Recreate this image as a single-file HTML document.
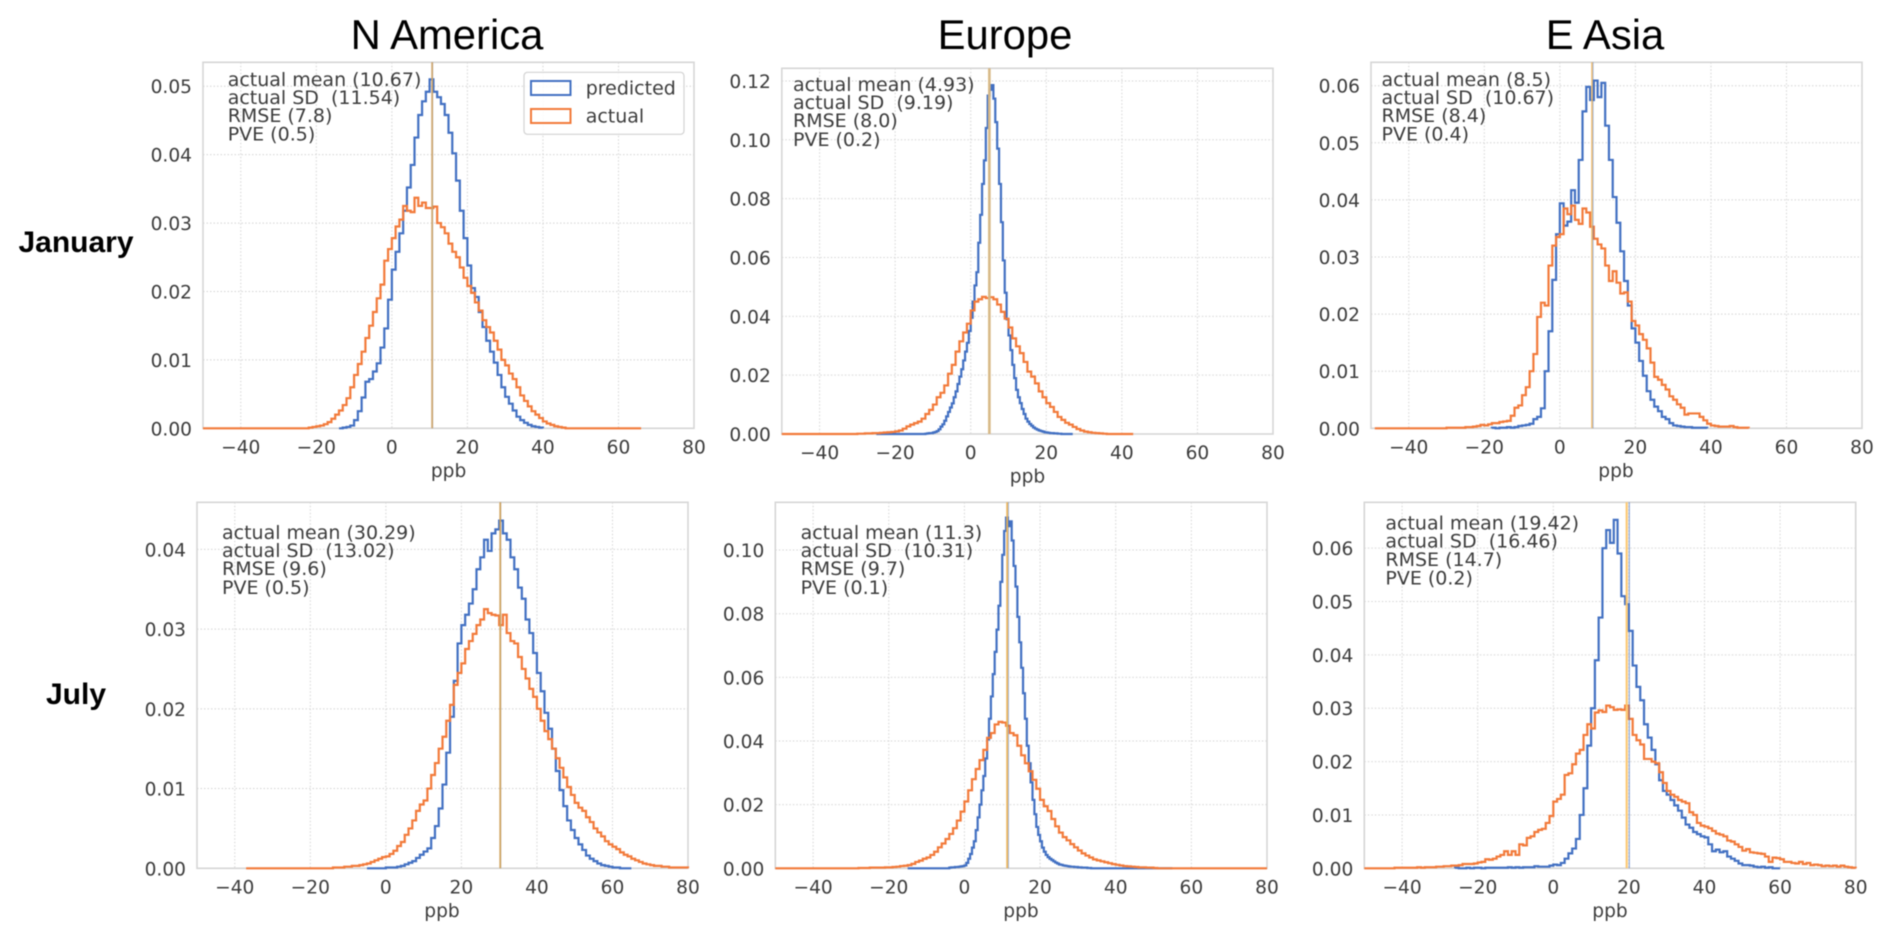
<!DOCTYPE html>
<html lang="en">
<head>
<meta charset="utf-8">
<title>Predicted vs actual ppb distributions</title>
<style>
  html, body { margin: 0; padding: 0; background: #fff; }
  svg { display: block; filter: blur(0.45px); }
  text { font-family: "DejaVu Sans", "Liberation Sans", sans-serif; }
  .title { font-family: "Liberation Sans", sans-serif; font-size: 41.8px; fill: #000; text-anchor: middle; }
  .row-label { font-family: "Liberation Sans", sans-serif; font-size: 30px; font-weight: bold; fill: #000; text-anchor: middle; }
  .tick { font-size: 18.6px; fill: #3c3c3c; }
  .note { font-size: 19px; fill: #3c3c3c; white-space: pre; }
</style>
</head>
<body>
<svg id="figure" xmlns="http://www.w3.org/2000/svg" width="1892" height="940" viewBox="0 0 1892 940">
  <text class="title" x="447" y="49">N America</text>
  <text class="title" x="1005" y="49">Europe</text>
  <text class="title" x="1605" y="49">E Asia</text>
  <text class="row-label" x="76" y="252">January</text>
  <text class="row-label" x="76" y="704">July</text>
</svg>
<script>
// Shared tick labels
const xTickValues = [-40, -20, 0, 20, 40, 60, 80];
const xDomain = [-50, 80];

// N America, January
const naJanYTicks = [0, 0.01, 0.02, 0.03, 0.04, 0.05];
const naJanPredicted = [.0001,.0002,.0004,.0012,.0025,.0045,.0068,.0072,.0083,.0095,.0118,.0146,.0188,.0232,.0258,.0285,.0318,.0352,.0385,.0425,.0458,.0478,.0492,.0510,.0492,.0484,.0474,.0458,.0432,.0402,.0362,.0318,.0278,.0238,.0205,.0192,.0170,.0148,.0128,.0112,.0096,.0078,.0060,.0046,.0036,.0026,.0017,.0012,.0008,.0005,.0003,.0002,.0001];
const naJanActual = [.0001,.0002,.0003,.0004,.0006,.0009,.0014,.0020,.0026,.0034,.0044,.0060,.0078,.0094,.0112,.0132,.0150,.0170,.0190,.0210,.0245,.0262,.0278,.0295,.0305,.0325,.0318,.0316,.0337,.0325,.0330,.0322,.0322,.0324,.0300,.0294,.0285,.0270,.0258,.0250,.0235,.0220,.0208,.0198,.0184,.0172,.0158,.0148,.0140,.0128,.0115,.0100,.0092,.0080,.0072,.0060,.0048,.0040,.0032,.0025,.0020,.0015,.0010,.0007,.0005,.0003,.0002,.0001];

// Europe, January (predicted read at half-ppb bins)
const euJanYTicks = [0, 0.02, 0.04, 0.06, 0.08, 0.10, 0.12];
const euJanPredicted = [.0001,.0002,.0003,.0003,.0005,.0007,.0010,.0016,.0025,.0033,.0045,.0060,.0075,.0090,.0104,.0125,.0145,.0170,.0195,.0220,.0250,.0280,.0310,.0350,.0395,.0450,.0505,.0550,.0650,.0745,.0850,.0930,.1040,.1150,.1170,.1186,.1140,.1060,.0970,.0850,.0720,.0590,.0480,.0390,.0335,.0285,.0235,.0190,.0150,.0125,.0105,.0085,.0068,.0052,.0042,.0034,.0028,.0022,.0018,.0015,.0012,.0010,.0008,.0006,.0005,.0004,.0003,.0003,.0002,.0002,.0001,.0001];
const euJanActual = [.0001,.0001,.0002,.0002,.0003,.0003,.0004,.0005,.0006,.0007,.0009,.0012,.0018,.0026,.0032,.0037,.0042,.0052,.0068,.0082,.0100,.0125,.0140,.0165,.0205,.0235,.0280,.0315,.0345,.0375,.0420,.0450,.0458,.0466,.0462,.0465,.0458,.0440,.0415,.0392,.0362,.0325,.0298,.0275,.0245,.0212,.0195,.0172,.0145,.0125,.0105,.0092,.0075,.0058,.0048,.0038,.0032,.0024,.0017,.0012,.0008,.0006,.0004,.0003,.0002,.0001];

// E Asia, January
const asJanYTicks = [0, 0.01, 0.02, 0.03, 0.04, 0.05, 0.06];
const asJanPredicted = [.0001,0,.0001,.0001,.0002,.0001,.0002,.0004,.0005,.0006,.0008,.0016,.0020,.0035,.0100,.0170,.0260,.0340,.0394,.0355,.0362,.0417,.0395,.0470,.0555,.0598,.0575,.0609,.0580,.0605,.0530,.0470,.0405,.0360,.0310,.0258,.0215,.0175,.0150,.0118,.0092,.0065,.0050,.0038,.0030,.0020,.0016,.0009,.0005,.0004,.0003,.0002,.0002,.0001,.0001,.0001,.0001];
const asJanActual = [.0001,.0001,.0001,.0001,.0001,.0002,.0002,.0003,.0004,.0006,.0005,.0007,.0009,.0009,.0011,.0012,.0013,.0022,.0036,.0040,.0058,.0072,.0100,.0130,.0195,.0220,.0215,.0285,.0320,.0335,.0340,.0385,.0375,.0390,.0365,.0358,.0385,.0378,.0353,.0332,.0322,.0315,.0285,.0258,.0275,.0255,.0236,.0238,.0222,.0188,.0180,.0165,.0155,.0140,.0115,.0090,.0085,.0076,.0068,.0056,.0050,.0042,.0036,.0024,.0026,.0026,.0026,.0020,.0014,.0008,.0005,.0004,.0003,.0003,.0003,.0004,.0002,.0001,.0001,.0001];

// N America, July
const naJulYTicks = [0, 0.01, 0.02, 0.03, 0.04];
const naJulPredicted = [.0001,.0001,.0001,.0002,.0003,.0005,.0007,.0009,.0013,.0017,.0021,.0025,.0038,.0053,.0075,.0105,.0145,.0190,.0235,.0282,.0305,.0318,.0332,.0350,.0375,.0390,.0412,.0398,.0420,.0425,.0436,.0420,.0412,.0390,.0375,.0352,.0338,.0312,.0295,.0270,.0245,.0222,.0195,.0175,.0150,.0122,.0098,.0078,.0060,.0048,.0038,.0030,.0023,.0016,.0012,.0009,.0006,.0004,.0003,.0002,.0001,.0001];
const naJulActual = [.0001,.0001,.0001,.0002,.0002,.0003,.0003,.0004,.0005,.0006,.0008,.0010,.0012,.0014,.0015,.0018,.0022,.0028,.0033,.0042,.0050,.0060,.0072,.0080,.0085,.0100,.0117,.0132,.0150,.0165,.0185,.0205,.0230,.0245,.0257,.0275,.0285,.0294,.0305,.0312,.0325,.0320,.0318,.0317,.0305,.0318,.0295,.0285,.0282,.0265,.0250,.0238,.0225,.0215,.0200,.0185,.0172,.0162,.0150,.0138,.0126,.0114,.0102,.0092,.0082,.0076,.0072,.0064,.0058,.0050,.0045,.0040,.0034,.0030,.0027,.0024,.0020,.0017,.0015,.0012,.0010,.0008,.0006,.0005,.0004,.0003,.0003,.0002,.0002,.0001,.0001,.0001,.0001,.0001];

// Europe, July (predicted read at half-ppb bins)
const euJulYTicks = [0, 0.02, 0.04, 0.06, 0.08, 0.10];
const euJulPredicted = [.0002,.0003,.0003,.0004,.0004,.0005,.0006,.0007,.0009,.0017,.0030,.0045,.0065,.0085,.0120,.0160,.0200,.0245,.0290,.0345,.0405,.0470,.0540,.0610,.0680,.0750,.0825,.0900,.0985,.1060,.1102,.1075,.1090,.1030,.0950,.0885,.0790,.0710,.0630,.0550,.0470,.0385,.0330,.0270,.0215,.0170,.0130,.0105,.0085,.0065,.0052,.0042,.0035,.0030,.0026,.0022,.0018,.0015,.0012,.0011,.0009,.0008,.0007,.0006,.0005,.0005,.0004,.0004,.0003,.0003,.0002,.0002,.0002,.0001,.0001];
const euJulActual = [.0001,.0001,.0001,.0002,.0002,.0002,.0002,.0003,.0003,.0004,.0005,.0007,.0008,.0010,.0014,.0020,.0024,.0030,.0034,.0042,.0052,.0066,.0078,.0092,.0108,.0126,.0150,.0178,.0210,.0245,.0280,.0312,.0340,.0372,.0410,.0425,.0452,.0460,.0458,.0448,.0425,.0418,.0385,.0355,.0330,.0305,.0278,.0250,.0215,.0195,.0180,.0155,.0132,.0112,.0098,.0088,.0076,.0066,.0056,.0047,.0040,.0034,.0028,.0025,.0022,.0019,.0016,.0013,.0011,.0009,.0007,.0006,.0005,.0004,.0003,.0003,.0002,.0002,.0001];

// E Asia, July
const asJulYTicks = [0, 0.01, 0.02, 0.03, 0.04, 0.05, 0.06];
const asJulPredicted = [.0001,0,0,.0001,0,.0001,.0001,0,.0001,.0001,.0001,.0001,.0001,.0001,.0002,.0001,.0002,.0001,.0002,.0002,.0002,.0004,.0003,.0003,.0003,.0005,.0007,.0006,.0010,.0018,.0028,.0037,.0055,.0100,.0150,.0230,.0300,.0390,.0470,.0600,.0634,.0610,.0653,.0590,.0510,.0495,.0445,.0380,.0340,.0315,.0270,.0245,.0222,.0195,.0165,.0145,.0138,.0128,.0118,.0108,.0095,.0082,.0076,.0068,.0064,.0060,.0058,.0045,.0032,.0035,.0030,.0032,.0022,.0018,.0014,.0009,.0006,.0006,.0005,.0003,.0002,.0003,.0001,.0002];
const asJulActual = [.0001,.0001,.0001,.0001,.0001,.0001,.0002,.0001,.0002,.0002,.0002,.0003,.0003,.0004,.0004,.0005,.0005,.0006,.0008,.0008,.0008,.0009,.0011,.0012,.0017,.0016,.0018,.0022,.0025,.0032,.0025,.0032,.0025,.0045,.0043,.0057,.0060,.0068,.0072,.0074,.0085,.0098,.0125,.0130,.0138,.0175,.0178,.0195,.0215,.0222,.0250,.0270,.0262,.0292,.0296,.0293,.0305,.0302,.0297,.0298,.0297,.0305,.0280,.0250,.0240,.0232,.0205,.0205,.0200,.0197,.0180,.0160,.0145,.0138,.0134,.0128,.0125,.0122,.0105,.0100,.0085,.0080,.0078,.0075,.0070,.0065,.0063,.0060,.0052,.0050,.0045,.0040,.0033,.0036,.0030,.0029,.0028,.0027,.0022,.0012,.0020,.0019,.0017,.0012,.0012,.0010,.0009,.0012,.0008,.0010,.0006,.0007,.0006,.0004,.0005,.0004,.0005,.0003,.0005,.0003,.0002,.0001];

// Printed annotation lines, one array per panel
const naJanNotes = ['actual mean (10.67)', 'actual SD  (11.54)', 'RMSE (7.8)', 'PVE (0.5)'];
const euJanNotes = ['actual mean (4.93)', 'actual SD  (9.19)', 'RMSE (8.0)', 'PVE (0.2)'];
const asJanNotes = ['actual mean (8.5)', 'actual SD  (10.67)', 'RMSE (8.4)', 'PVE (0.4)'];
const naJulNotes = ['actual mean (30.29)', 'actual SD  (13.02)', 'RMSE (9.6)', 'PVE (0.5)'];
const euJulNotes = ['actual mean (11.3)', 'actual SD  (10.31)', 'RMSE (9.7)', 'PVE (0.1)'];
const asJulNotes = ['actual mean (19.42)', 'actual SD  (16.46)', 'RMSE (14.7)', 'PVE (0.2)'];

// Mean markers: [actual, predicted]
const naJanMeans = [10.67, 10.75];
const euJanMeans = [4.93, 5.0];
const asJanMeans = [8.5, 8.75];
const naJulMeans = [30.29, 30.35];
const euJulMeans = [11.3, 11.6];
const asJulMeans = [19.42, 20.1];

const BLUE = '#4270c2';
const ORANGE = '#f27a3a';
const SVG_NS = 'http://www.w3.org/2000/svg';
const figure = document.getElementById('figure');

// Frame geometry and styling, kept apart from the data arrays
const panels = [
  { key: 'n-america-january', box: [203, 62.3, 694, 428.3], yTop: 0.0535, yTicks: naJanYTicks, predicted: naJanPredicted, predictedStart: -13, predictedBin: 1, predictedRange: [-14, 40], actual: naJanActual, actualStart: -22, actualRange: [-50, 66], notes: naJanNotes, noteX: 227.7, noteY: [86, 104, 122, 140.7], means: naJanMeans, meanColor: '#d0a468', meanWidth: 1.8, labelX: 448.6, legend: true },
  { key: 'europe-january', box: [781.8, 68.3, 1273, 434], yTop: 0.1243, yTicks: euJanYTicks, predicted: euJanPredicted, predictedStart: -12, predictedBin: 0.5, predictedRange: [-25, 27], actual: euJanActual, actualStart: -30, actualRange: [-50, 43], notes: euJanNotes, noteX: 793, noteY: [91, 109, 127, 146], means: euJanMeans, meanColor: '#dab985', meanWidth: 2.7, labelX: 1027.5 },
  { key: 'e-asia-january', box: [1371, 62.3, 1862, 428.3], yTop: 0.0641, yTicks: asJanYTicks, predicted: asJanPredicted, predictedStart: -18, predictedBin: 1, predictedRange: [-18, 39], actual: asJanActual, actualStart: -30, actualRange: [-49, 50], notes: asJanNotes, noteX: 1381.5, noteY: [86, 104, 122, 140.7], means: asJanMeans, meanColor: '#eeb866', meanWidth: 1.5, labelX: 1616 },
  { key: 'n-america-july', box: [197, 502.3, 688, 868.3], yTop: 0.0459, yTicks: naJulYTicks, predicted: naJulPredicted, predictedStart: 0, predictedBin: 1, predictedRange: [-5, 65], actual: naJulActual, actualStart: -14, actualRange: [-37, 80], notes: naJulNotes, noteX: 222, noteY: [539, 557, 575, 594], means: naJulMeans, meanColor: '#d2a25a', meanWidth: 1.8, labelX: 442 },
  { key: 'europe-july', box: [775.3, 502.3, 1267, 868.3], yTop: 0.1150, yTicks: euJulYTicks, predicted: euJulPredicted, predictedStart: -4, predictedBin: 0.5, predictedRange: [-15, 55], actual: euJulActual, actualStart: -28, actualRange: [-50, 80], notes: euJulNotes, noteX: 800.6, noteY: [539, 557, 575, 594], means: euJulMeans, meanColor: '#eeb455', meanWidth: 1.8, labelX: 1021 },
  { key: 'e-asia-july', box: [1364.3, 502.3, 1855.7, 868.3], yTop: 0.0686, yTicks: asJulYTicks, predicted: asJulPredicted, predictedStart: -26, predictedBin: 1, predictedRange: [-26, 60], actual: asJulActual, actualStart: -42, actualRange: [-50, 80], notes: asJulNotes, noteX: 1385.4, noteY: [529.3, 547.6, 566, 584.6], means: asJulMeans, meanColor: '#fcc76f', meanWidth: 2.2, labelX: 1610 }
];

function make(tag, parent, attrs) {
  const el = document.createElementNS(SVG_NS, tag);
  Object.keys(attrs).forEach(function (k) { el.setAttribute(k, attrs[k]); });
  parent.appendChild(el);
  return el;
}

function stepPath(values, start, binWidth, range, xScale, yScale) {
  let d = 'M' + xScale(range[0]).toFixed(2) + ',' + yScale(0).toFixed(2);
  values.forEach(function (v, i) {
    d += 'H' + xScale(start + i * binWidth).toFixed(2) + 'V' + yScale(v).toFixed(2);
  });
  d += 'H' + xScale(start + values.length * binWidth).toFixed(2) + 'V' + yScale(0).toFixed(2);
  d += 'H' + xScale(range[1]).toFixed(2);
  return d;
}

function formatX(v) {
  return (v < 0 ? '\u2212' : '') + Math.abs(v);
}

panels.forEach(function (p) {
  const left = p.box[0], top = p.box[1], right = p.box[2], bottom = p.box[3];
  const xScale = function (v) { return left + (v - xDomain[0]) / (xDomain[1] - xDomain[0]) * (right - left); };
  const yScale = function (v) { return bottom - v / p.yTop * (bottom - top); };

  const g = make('g', figure, {});
  
  

  // Vertical grid and x tick labels
  xTickValues.forEach(function (t) {
    const line = make('line', g, { x1: xScale(t), x2: xScale(t), y1: top, y2: bottom, stroke: '#d4d4d4', 'stroke-width': 1, 'stroke-dasharray': '1.5 2' });
    
    
    const label = make('text', g, { class: 'tick', x: xScale(t), y: bottom + 25, 'text-anchor': 'middle' });
    
    
    label.textContent = formatX(t);
  });

  // Horizontal grid and y tick labels
  p.yTicks.forEach(function (t) {
    const line = make('line', g, { x1: left, x2: right, y1: yScale(t), y2: yScale(t), stroke: '#d4d4d4', 'stroke-width': 1, 'stroke-dasharray': '1.5 2' });
    
    
    const label = make('text', g, { class: 'tick', x: left - 11, y: yScale(t) + 7, 'text-anchor': 'end' });
    
    
    label.textContent = t.toFixed(2);
  });

  // Axis frame
  const frame = make('rect', g, { x: left, y: top, width: right - left, height: bottom - top, fill: 'none', stroke: '#d6d6d6', 'stroke-width': 1.6 });
  
  

  // Histograms
  const predictedLine = make('path', g, { d: stepPath(p.predicted, p.predictedStart, p.predictedBin, p.predictedRange, xScale, yScale), fill: 'none', stroke: BLUE, 'stroke-width': 2.2, 'stroke-linejoin': 'miter' });
  
  
  const actualLine = make('path', g, { d: stepPath(p.actual, p.actualStart, 1, p.actualRange, xScale, yScale), fill: 'none', stroke: ORANGE, 'stroke-width': 2.2, 'stroke-linejoin': 'miter' });
  
  

  // Mean markers
  const predictedMean = make('line', g, { x1: xScale(p.means[1]), x2: xScale(p.means[1]), y1: top, y2: bottom, stroke: BLUE, 'stroke-width': 1.4, 'stroke-opacity': 0.5 });
  
  
  const actualMean = make('line', g, { x1: xScale(p.means[0]), x2: xScale(p.means[0]), y1: top, y2: bottom, stroke: p.meanColor, 'stroke-width': p.meanWidth, 'stroke-opacity': 0.95 });
  
  

  // Annotation block
  p.notes.forEach(function (line, i) {
    const note = make('text', g, { class: 'note', x: p.noteX, y: p.noteY[i] });
    
    
    note.setAttribute('xml:space', 'preserve');
    note.textContent = line;
  });

  // X axis title
  const xTitle = make('text', g, { class: 'tick', x: p.labelX, y: bottom + 48.5, 'text-anchor': 'middle' });
  
  
  xTitle.textContent = 'ppb';

  if (p.legend) {
    const legend = make('g', g, {});
    
    
    const box = make('rect', legend, { x: 524, y: 72.3, width: 160, height: 62, rx: 3.5, fill: '#fff', 'fill-opacity': 0.85, stroke: '#d2d2d2', 'stroke-width': 1.2 });
    
    
    const swatchBlue = make('rect', legend, { x: 531, y: 81, width: 39.5, height: 14, fill: 'none', stroke: BLUE, 'stroke-width': 2 });
    
    
    const swatchOrange = make('rect', legend, { x: 531, y: 109, width: 39.5, height: 14, fill: 'none', stroke: ORANGE, 'stroke-width': 2 });
    
    
    const textPredicted = make('text', legend, { class: 'note', x: 585.7, y: 94.5 });
    
    
    textPredicted.textContent = 'predicted';
    const textActual = make('text', legend, { class: 'note', x: 585.7, y: 122.7 });
    
    
    textActual.textContent = 'actual';
  }
});
</script>
</body>
</html>
